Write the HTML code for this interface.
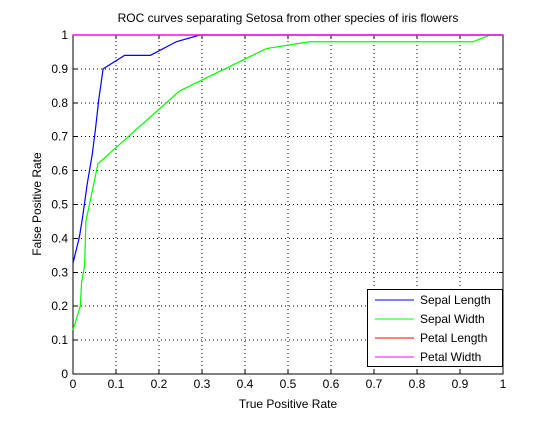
<!DOCTYPE html>
<html><head><meta charset="utf-8"><style>
body{margin:0;background:#fff;font-family:"Liberation Sans",sans-serif}
svg text{font-family:"Liberation Sans",sans-serif;font-size:12px;fill:#000}
</style></head><body>
<svg id="c" width="560" height="420">
<rect width="560" height="420" fill="#fff"/>
<text x="288" y="22" text-anchor="middle">ROC curves separating Setosa from other species of iris flowers</text>
<text x="288" y="408" text-anchor="middle">True Positive Rate</text>
<text transform="translate(41,204) rotate(-90)" text-anchor="middle">False Positive Rate</text>
<g id="grid" shape-rendering="crispEdges"></g><g id="axes" shape-rendering="crispEdges"></g><g id="series"></g>
<g>
<rect x="367.5" y="289.5" width="135" height="77" fill="#fff" stroke="#000" shape-rendering="crispEdges"/>
<g id="leg"></g>
</g>
</svg>
<script>
const ticks=[0,0.1,0.2,0.3,0.4,0.5,0.6,0.7,0.8,0.9,1];
const tickLabels=["0","0.1","0.2","0.3","0.4","0.5","0.6","0.7","0.8","0.9","1"];
const seriesNames=["Sepal Length","Sepal Width","Petal Length","Petal Width"];
const seriesColors=["#0000ff","#00ff00","#ff0000","#ff00ff"];
const sepalLengthX=[0,0.015,0.022,0.033,0.045,0.052,0.06,0.07,0.12,0.18,0.24,0.295,1];
const sepalLengthY=[0.327,0.405,0.46,0.56,0.65,0.72,0.81,0.9,0.94,0.94,0.98,1,1];
const sepalWidthX=[0,0.017,0.02,0.027,0.03,0.058,0.093,0.248,0.45,0.55,0.93,0.97,1];
const sepalWidthY=[0.13,0.2,0.27,0.32,0.45,0.62,0.66,0.835,0.96,0.98,0.98,1,1];
const petalLengthX=[0,1];
const petalLengthY=[1,1];
const petalWidthX=[0,1];
const petalWidthY=[1,1];
const X0=73,X1=503,Y0=374,Y1=35;
const sx=v=>X0+v*(X1-X0), sy=v=>Y0-v*(Y0-Y1);
const NS="http://www.w3.org/2000/svg";
function mk(t,a,p){const e=document.createElementNS(NS,t);for(const k in a)e.setAttribute(k,a[k]);p.appendChild(e);return e;}
const grid=document.getElementById('grid'),axes=document.getElementById('axes'),ser=document.getElementById('series');
ticks.forEach((t,i)=>{
 if(i>0&&i<ticks.length-1){
  const g1=mk('line',{x1:sx(t),x2:sx(t),y1:Y0,y2:Y1,stroke:'#000','stroke-dasharray':'1,3','stroke-width':1},grid);
  
  
  const g2=mk('line',{x1:X0,x2:X1,y1:sy(t),y2:sy(t),stroke:'#000','stroke-dasharray':'1,3','stroke-width':1},grid);
  
  
 }
 mk('line',{x1:sx(t),x2:sx(t),y1:Y0,y2:Y0-4,stroke:'#000'},axes);
 mk('line',{x1:sx(t),x2:sx(t),y1:Y1,y2:Y1+4,stroke:'#000'},axes);
 mk('line',{x1:X0,x2:X0+4,y1:sy(t),y2:sy(t),stroke:'#000'},axes);
 mk('line',{x1:X1,x2:X1-4,y1:sy(t),y2:sy(t),stroke:'#000'},axes);
 const tx=mk('text',{x:sx(t),y:Y0+14,'text-anchor':'middle'},axes);tx.textContent=tickLabels[i];
 
 
 const ty=mk('text',{x:X0-5,y:sy(t)+4,'text-anchor':'end'},axes);ty.textContent=tickLabels[i];
 
 
});
mk('rect',{x:X0,y:Y1,width:X1-X0,height:Y0-Y1,fill:'none',stroke:'#000'},axes);
const data=[[sepalLengthX,sepalLengthY],[sepalWidthX,sepalWidthY],[petalLengthX,petalLengthY],[petalWidthX,petalWidthY]];
const lineNames=['sepal-length-line','sepal-width-line','petal-length-line','petal-width-line'];
data.forEach((d,k)=>{
 const pts=d[0].map((x,i)=>sx(x)+','+sy(d[1][i])).join(' ');
 const p=mk('polyline',{points:pts,fill:'none',stroke:seriesColors[k],'stroke-width':1.2},ser);
 
 
});
const leg=document.getElementById('leg');
seriesNames.forEach((n,k)=>{
 const y=300+k*19;
 mk('line',{x1:375,x2:414,y1:y,y2:y,stroke:seriesColors[k]},leg);
 const t=mk('text',{x:420,y:y+4},leg);t.textContent=n;
 
 
});
</script>
</body></html>
